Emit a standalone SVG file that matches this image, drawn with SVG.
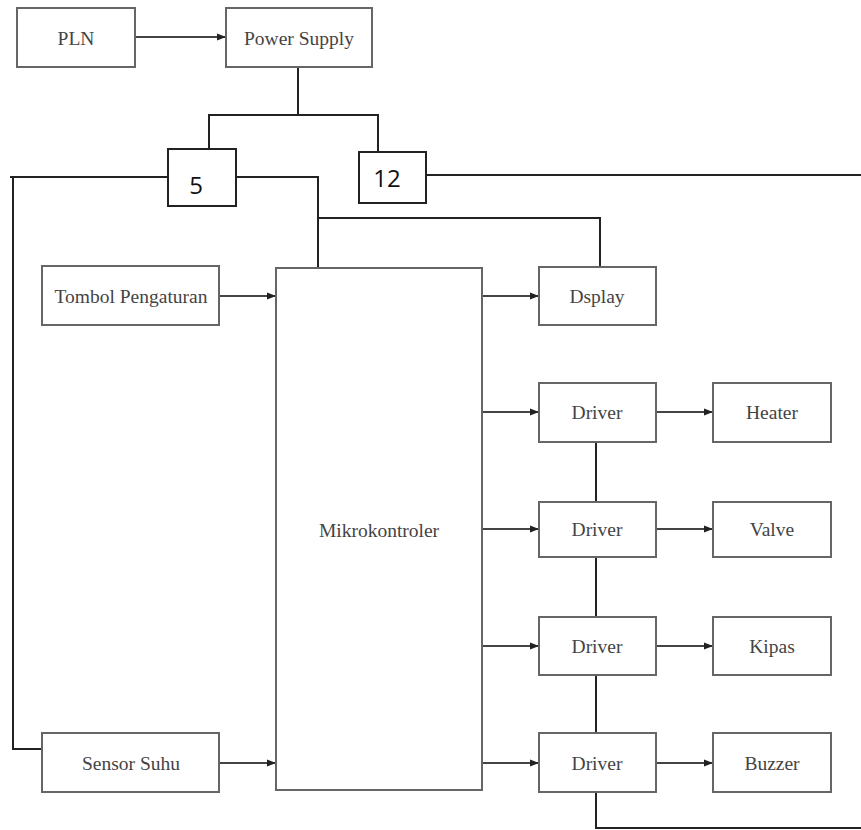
<svg xmlns="http://www.w3.org/2000/svg" width="861" height="830" viewBox="0 0 861 830">
<defs>
<marker id="ah" markerWidth="10" markerHeight="8" refX="9" refY="4" orient="auto" markerUnits="userSpaceOnUse">
<path d="M0,0.5 L9,4 L0,7.5 Z" fill="#222"/>
</marker>
<style>
.box{fill:#fff;stroke:#666;stroke-width:2}
.lbl{font-family:"Liberation Serif","Times New Roman",serif;font-size:19.5px;fill:#444;text-anchor:middle;dominant-baseline:central}
.num{font-family:"Open Sans","Liberation Sans",sans-serif;font-size:24px;fill:#111;text-anchor:middle;dominant-baseline:central}
.pw{fill:none;stroke:#222;stroke-width:2}
.ar{fill:none;stroke:#444;stroke-width:1.8;marker-end:url(#ah)}
</style>
</defs>
<rect width="861" height="830" fill="#fff"/>
<g id="connectors">
<line class="ar" x1="135" y1="37" x2="226" y2="37"/>
<polyline class="pw" points="298,67 298,115"/>
<polyline class="pw" points="209,149 209,115 378,115 378,152"/>
<polyline class="pw" points="168,177 10,177"/>
<polyline class="pw" points="13,177 13,749 42,749"/>
<polyline class="pw" points="236,177 318,177 318,268"/>
<polyline class="pw" points="318,218 600,218 600,267"/>
<polyline class="pw" points="426,175 861,175"/>
<line class="ar" x1="219" y1="296" x2="276" y2="296"/>
<line class="ar" x1="219" y1="763" x2="276" y2="763"/>
<line class="ar" x1="482" y1="296" x2="539" y2="296"/>
<line class="ar" x1="482" y1="412" x2="539" y2="412"/>
<line class="ar" x1="482" y1="529" x2="539" y2="529"/>
<line class="ar" x1="482" y1="646" x2="539" y2="646"/>
<line class="ar" x1="482" y1="763" x2="539" y2="763"/>
<line class="ar" x1="656" y1="412" x2="713" y2="412"/>
<line class="ar" x1="656" y1="529" x2="713" y2="529"/>
<line class="ar" x1="656" y1="646" x2="713" y2="646"/>
<line class="ar" x1="656" y1="763" x2="713" y2="763"/>
<polyline class="pw" points="596,442 596,502"/>
<polyline class="pw" points="596,557 596,617"/>
<polyline class="pw" points="596,675 596,733"/>
<polyline class="pw" points="596,792 596,828 861,828"/>
</g>
<g id="pln"><rect class="box" x="17" y="8" width="118" height="59"/><text class="lbl" x="76" y="38">PLN</text></g>
<g id="power-supply"><rect class="box" x="226" y="8" width="146" height="59"/><text class="lbl" x="299" y="38">Power Supply</text></g>
<g id="v5"><rect class="box" x="168" y="149" width="68" height="57" style="stroke:#222"/><text class="num" x="196" y="184">5</text></g>
<g id="v12"><rect class="box" x="359" y="152" width="67" height="51" style="stroke:#222"/><text class="num" x="387" y="177">12</text></g>
<g id="tombol"><rect class="box" x="42" y="266" width="177" height="59"/><text class="lbl" x="131" y="296">Tombol Pengaturan</text></g>
<g id="sensor"><rect class="box" x="42" y="733" width="177" height="59"/><text class="lbl" x="131" y="763">Sensor Suhu</text></g>
<g id="mikro"><rect class="box" x="276" y="268" width="206" height="522"/><text class="lbl" x="379" y="530">Mikrokontroler</text></g>
<g id="display"><rect class="box" x="539" y="267" width="117" height="58"/><text class="lbl" x="597" y="296">Dsplay</text></g>
<g id="driver1"><rect class="box" x="539" y="383" width="117" height="59"/><text class="lbl" x="597" y="412">Driver</text></g>
<g id="driver2"><rect class="box" x="539" y="502" width="117" height="55"/><text class="lbl" x="597" y="529">Driver</text></g>
<g id="driver3"><rect class="box" x="539" y="617" width="117" height="58"/><text class="lbl" x="597" y="646">Driver</text></g>
<g id="driver4"><rect class="box" x="539" y="733" width="117" height="59"/><text class="lbl" x="597" y="763">Driver</text></g>
<g id="heater"><rect class="box" x="713" y="383" width="118" height="59"/><text class="lbl" x="772" y="412">Heater</text></g>
<g id="valve"><rect class="box" x="713" y="502" width="118" height="55"/><text class="lbl" x="772" y="529">Valve</text></g>
<g id="kipas"><rect class="box" x="713" y="617" width="118" height="58"/><text class="lbl" x="772" y="646">Kipas</text></g>
<g id="buzzer"><rect class="box" x="713" y="733" width="118" height="59"/><text class="lbl" x="772" y="763">Buzzer</text></g>
</svg>
